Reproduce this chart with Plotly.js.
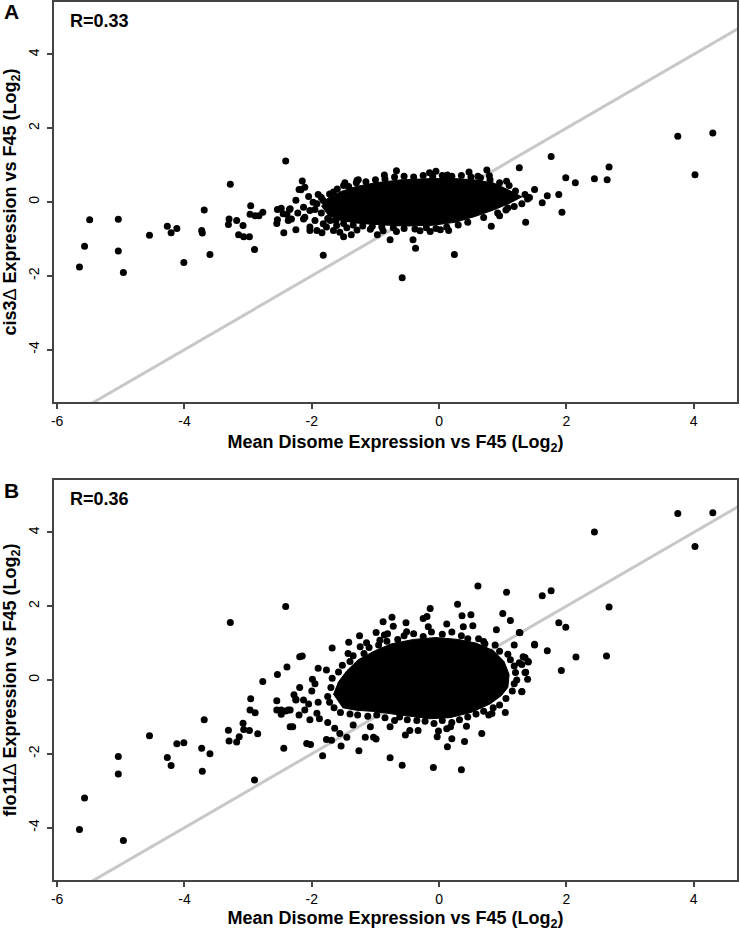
<!DOCTYPE html>
<html>
<head>
<meta charset="utf-8">
<script src="https://cdn.plot.ly/plotly-3.0.1.min.js"></script>
<style>html,body{margin:0;padding:0;background:#fff;}#chart{width:740px;height:931px;}</style>
</head>
<body>
<div id="chart"></div>
<script>
// ---------- DATA ----------
const xTickVals = [-6, -4, -2, 0, 2, 4];
const xTickText = ["-6", "-4", "-2", "0", "2", "4"];
const yTickVals = [-4, -2, 0, 2, 4];
const yTickText = ["-4", "-2", "0", "2", "4"];

// identity line (y = x)
const refLineX = [-7, 6];
const refLineY = [-7, 6];

// Panel A: cis3Δ vs mean disome  [x, y]
const panelAPoints = [
[-5.65,-1.76],[-5.57,-1.20],[-5.49,-0.48],[-5.04,-0.47],[-5.04,-1.33],[-4.96,-1.91],
[-4.55,-0.90],[-4.27,-0.66],[-4.21,-0.83],[-4.12,-0.72],[-4.01,-1.64],[-3.73,-0.77],
[-3.72,-0.84],[-3.69,-0.22],[-3.60,-1.42],[-3.28,0.48],[-3.31,-0.61],[-3.30,-0.46],
[-3.18,-0.50],[-3.08,-0.64],[-3.15,-0.89],[-3.07,-0.94],[-2.98,-0.94],[-2.96,-0.10],
[-2.97,-0.33],[-2.89,-0.37],[-2.83,-0.37],[-2.77,-0.28],[-2.90,-1.29],[-2.41,1.11],
[-2.54,-0.20],[-2.48,-0.17],[-2.54,-0.48],[-2.55,-0.58],[-2.44,-0.83],[-2.39,-0.34],
[-2.35,-0.20],[-2.37,-0.50],[-2.32,-0.46],[-2.25,-0.75],[-2.20,0.34],[-2.45,-0.32],
[-2.15,0.57],[-2.11,0.40],[-2.17,0.33],[-2.34,-0.18],[-1.82,-1.44],[-1.90,0.20],
[-1.48,0.52],[-1.27,0.60],[-0.86,0.73],[-0.67,0.85],[-0.15,0.79],[-0.05,0.83],
[0.13,0.73],[0.47,0.81],[0.75,0.87],[0.79,0.71],[0.61,0.70],[1.06,0.56],[1.26,0.93],
[1.76,1.23],[1.50,0.34],[1.39,0.08],[1.70,0.17],[1.62,-0.02],[1.88,0.20],[1.99,0.66],
[2.14,0.52],[1.93,-0.28],[1.36,-0.55],[1.08,-0.16],[0.95,-0.37],[0.82,-0.66],
[0.15,-0.77],[0.24,-1.42],[-0.41,-1.02],[-0.37,-1.25],[-0.58,-2.05],[-0.77,-1.02],
[-0.97,-0.89],[-1.38,-0.89],[-1.50,-0.94],[-1.84,-0.83],[-2.03,-0.77],[-2.13,-0.46],
[3.75,1.78],[4.30,1.87],[4.02,0.74],[2.67,0.95],[2.64,0.60],[2.44,0.63],
[-2.13,-0.14],[-2.11,-0.41],[-2.03,-0.23],[-1.98,-0.01],[-1.82,0.04],[-1.71,-0.50],
[-2.03,-0.68],[-1.92,-0.77],[-1.77,-0.68],[-1.66,-0.77],[-1.56,-0.82],[-1.29,-0.76],
[-1.08,-0.74],[-0.88,-0.78],[-0.67,-0.80],[-0.30,-0.78],[-0.14,-0.80],[0.02,-0.75],
[-1.95,-0.50],[-1.82,-0.59],[-1.61,-0.64],[-1.45,-0.70],[-1.66,0.27],[-1.50,0.45],
[-1.29,0.58],[-2.25,0.05],[-2.05,0.15],[-2.22,-0.30],
[-1.92,-0.05],[-1.85,0.12],[-1.72,0.22],[-1.60,0.35],[-1.42,0.42],[-1.30,0.52],
[-1.15,0.55],[-1.00,0.60],[-0.85,0.62],[-0.70,0.68],[-0.55,0.70],[-0.40,0.68],
[-0.25,0.72],[-0.10,0.70],[0.05,0.72],[0.20,0.70],[0.35,0.72],[0.50,0.68],[0.65,0.66],
[0.80,0.60],[0.95,0.52],[1.10,0.45],[1.20,0.30],[1.35,0.20],[1.42,0.12],
[1.30,-0.05],[1.18,-0.12],[1.05,-0.22],[0.92,-0.30],[0.70,-0.42],[0.45,-0.55],
[0.30,-0.62],[0.12,-0.68],[-0.05,-0.72],[-0.20,-0.70],[-0.38,-0.73],[-0.55,-0.72],
[-0.72,-0.70],[-0.90,-0.68],[-1.05,-0.66],[-1.20,-0.65],[-1.35,-0.62],[-1.50,-0.58],
[-1.62,-0.50],[-1.75,-0.45],[-1.85,-0.30],[-1.95,-0.20]
];
// Panel A: saturated (fully overlapping) core of the point cloud, outline
const panelACoreX = [-1.85,-1.75,-1.55,-1.30,-1.00,-0.60,-0.20,0.20,0.55,0.85,1.05,1.30,1.10,0.85,0.55,0.25,-0.10,-0.50,-0.90,-1.25,-1.55,-1.75];
const panelACoreY = [-0.12,0.10,0.28,0.42,0.52,0.60,0.63,0.64,0.60,0.52,0.36,0.14,-0.04,-0.22,-0.40,-0.55,-0.63,-0.65,-0.62,-0.58,-0.50,-0.35];

// Panel B: flo11Δ vs mean disome  [x, y]
const panelBPoints = [
[-5.65,-4.05],[-5.57,-3.20],[-5.04,-2.07],[-5.04,-2.55],[-4.96,-4.35],[-4.55,-1.51],
[-4.27,-2.10],[-4.21,-2.32],[-4.12,-1.73],[-4.01,-1.70],[-3.73,-1.85],[-3.72,-2.47],
[-3.69,-1.08],[-3.60,-2.00],[-3.28,1.56],[-3.31,-1.36],[-3.30,-1.65],[-3.18,-1.68],
[-3.14,-1.54],[-3.08,-1.17],[-3.07,-1.34],[-2.98,-1.37],[-2.96,-0.51],[-2.97,-0.81],
[-2.89,-0.89],[-2.85,-1.46],[-2.77,-0.04],[-2.90,-2.71],[-2.41,1.99],[-2.54,0.15],
[-2.39,0.35],[-2.55,-0.56],[-2.55,-0.81],[-2.48,-0.81],[-2.48,-0.93],[-2.37,-0.81],
[-2.41,-0.84],[-2.34,-1.27],[-2.44,-1.85],[-2.25,-0.52],[-2.19,-0.20],[-2.19,0.63],
[0.61,2.55],[1.06,2.38],[0.29,2.05],[-0.14,1.94],[-0.19,1.72],[-0.25,1.67],[-0.74,1.70],
[-0.88,1.58],[-0.72,1.46],[-0.52,1.55],[0.36,1.74],[0.50,1.77],[0.12,1.52],[0.53,1.47],
[1.00,1.80],[1.12,1.61],[0.90,1.36],[1.26,1.29],[1.18,0.95],[1.50,0.95],[-1.68,0.87],
[-2.15,0.65],[-1.42,1.02],[-1.25,1.20],[-1.14,1.01],[-0.99,1.29],[-0.81,1.25],[-1.99,0.02],
[-2.25,-0.54],[-2.34,-0.81],[-2.30,-1.27],[-2.08,-1.72],[-2.02,-1.75],[-1.83,-2.05],
[-1.54,-1.79],[-1.26,-1.92],[-1.77,-1.61],[-1.69,-1.63],[-0.77,-2.11],[-0.58,-2.31],
[-0.09,-2.37],[0.35,-2.43],[0.13,-1.81],[0.40,-1.67],[0.20,-1.59],[0.67,-1.45],
[1.04,-0.88],[0.78,-0.95],[0.83,-0.91],[1.30,-0.32],[1.39,0.02],[1.35,0.20],[1.40,0.50],
[1.32,0.63],[1.26,0.47],[-0.99,-1.60],[-1.16,-1.55],[-0.53,-1.49],[-0.33,-1.37],
[-0.03,-1.54],[-0.01,-1.38],[0.18,-1.27],
[3.75,4.51],[4.30,4.53],[4.02,3.62],[2.44,4.01],[2.67,1.98],[2.63,0.65],[2.15,0.62],
[1.92,0.26],[1.99,1.43],[1.88,1.55],[1.76,2.42],[1.62,2.28],[1.70,0.79],[1.50,0.97],
[1.35,0.61],[1.40,0.49],[1.30,0.42],[1.36,0.21],[1.30,-0.31],[1.27,1.28],
[-1.43,0.72],[-1.24,0.90],[-0.93,1.08],[-0.86,1.22],[-0.51,1.31],[-0.17,1.44],[0.38,1.44],
[0.70,1.04],[-0.77,-1.27],[-1.08,-1.27],[-1.35,-1.22],[-1.64,-1.31],[-1.92,-0.90],
[-2.03,-1.08],[-2.11,-0.81],[-2.13,-0.54],[-1.90,0.32],[-1.77,0.27],[-1.56,-1.45],
[-1.45,-1.55],[-1.03,-1.55],[-0.46,-1.37],[0.43,-1.25],[0.12,-1.32],
[-1.90,-0.60],[-2.00,-0.30],[-1.95,-0.10],[-2.05,-0.65],[-1.88,-1.05],[-1.75,-1.15],
[-2.20,-0.95],[-2.28,-0.40],
[-1.75,-0.45],[-1.70,-0.20],[-1.68,0.05],[-1.58,0.22],[-1.52,0.40],[-1.40,0.50],
[-1.35,0.66],[-1.18,0.72],[-1.10,0.88],[-0.95,0.95],[-0.82,1.05],[-0.65,1.10],
[-0.55,1.20],[-0.40,1.25],[-0.25,1.18],[-0.12,1.30],[0.05,1.24],[0.20,1.30],[0.35,1.20],
[0.45,1.12],[0.62,1.12],[0.72,0.98],[0.88,0.95],[0.95,0.78],[1.08,0.70],[1.12,0.55],
[1.18,0.38],[1.20,0.20],[1.22,0.00],[1.18,-0.10],[1.15,-0.30],[1.05,-0.50],[0.95,-0.68],
[0.85,-0.75],[0.70,-0.85],[0.58,-0.92],[0.45,-1.00],[0.32,-1.08],[0.20,-1.15],
[0.05,-1.10],[-0.08,-1.18],[-0.22,-1.12],[-0.35,-1.10],[-0.50,-1.08],[-0.62,-1.00],
[-0.70,-1.10],[-0.85,-1.02],[-0.98,-0.95],[-1.12,-0.98],[-1.28,-0.95],[-1.40,-0.92],
[-1.55,-0.88],[-1.65,-0.75],[-1.72,-0.60]
];
// Panel B: saturated core outline
const panelBCoreX = [-1.66,-1.58,-1.45,-1.27,-1.00,-0.75,-0.40,-0.05,0.30,0.58,0.85,1.02,1.10,1.08,0.98,0.80,0.50,0.17,-0.15,-0.46,-0.77,-1.05,-1.30,-1.52];
const panelBCoreY = [-0.40,-0.05,0.25,0.55,0.80,0.98,1.10,1.15,1.10,1.00,0.80,0.50,0.15,-0.20,-0.42,-0.65,-0.88,-1.02,-1.05,-0.98,-0.92,-0.85,-0.82,-0.75];

const rTextA = "R=0.33";
const rTextB = "R=0.36";
const xTitleText = 'Mean Disome Expression vs F45 (Log<sub>2</sub>)';
const yTitleA = 'cis3<span style="font-weight:normal">Δ</span> Expression vs F45 (Log<sub>2</sub>)';
const yTitleB = 'flo11<span style="font-weight:normal">Δ</span> Expression vs F45 (Log<sub>2</sub>)';

// ---------- CHART ----------
const W = 740, H = 931;
const FONT = "Liberation Sans, Arial, Helvetica, sans-serif";
const px = v => v / W;
const py = v => 1 - v / H;

function panel(points, coreX, coreY, xa, ya) {
  return [
    {type:'scatter', mode:'lines', x:refLineX, y:refLineY, xaxis:xa, yaxis:ya,
     line:{color:'#c8c8c8', width:3}, hoverinfo:'skip'},
    {type:'scatter', mode:'lines', x:coreX, y:coreY, xaxis:xa, yaxis:ya,
     fill:'toself', fillcolor:'#000', line:{color:'#000', width:1}, hoverinfo:'skip'},
    {type:'scatter', mode:'markers', x:points.map(p=>p[0]), y:points.map(p=>p[1]),
     xaxis:xa, yaxis:ya, marker:{color:'#000', size:7, line:{width:0}}}
  ];
}

const data = [].concat(
  panel(panelAPoints, panelACoreX, panelACoreY, 'x', 'y'),
  panel(panelBPoints, panelBCoreX, panelBCoreY, 'x2', 'y2')
);

const titleFont = {family:FONT, size:18, color:'#000', weight:'bold'};
const xDom = [px(54), px(737)];
const axisCommon = {
  showline:true, linecolor:'#444', linewidth:1.5, mirror:true,
  ticks:'outside', ticklen:5, tickwidth:1.5, tickcolor:'#444',
  showgrid:false, zeroline:false, tickmode:'array', automargin:false,
  tickfont:{family:FONT, size:14, color:'#000'}
};
function xAxis(anchor) {
  return Object.assign({}, axisCommon, {domain:xDom, range:[-6.05, 4.68], anchor:anchor,
    tickvals:xTickVals, ticktext:xTickText,
    title:{text:xTitleText, font:titleFont, standoff:8}});
}
function yAxis(dom, anchor, title) {
  return Object.assign({}, axisCommon, {domain:dom, range:[-5.42, 5.42], anchor:anchor,
    tickvals:yTickVals, ticktext:yTickText, tickangle:-90, ticklabelstandoff:3,
    title:{text:title, font:titleFont, standoff:6}});
}

const ann = (text, x, y, opts) => Object.assign({text:text, xref:'paper', yref:'paper',
  x:x, y:y, showarrow:false, font:titleFont, xanchor:'left', yanchor:'middle'}, opts||{});

const labelFont = {family:FONT, size:21, color:'#000', weight:'bold'};
const layout = {
  width:W, height:H, margin:{l:0, r:0, t:0, b:0},
  paper_bgcolor:'#fff', plot_bgcolor:'#fff', showlegend:false,
  font:{family:FONT, color:'#000'},
  xaxis: xAxis('y'),
  yaxis: yAxis([py(402), py(2)], 'x', yTitleA),
  xaxis2: xAxis('y2'),
  yaxis2: yAxis([py(880), py(480)], 'x2', yTitleB),
  annotations: [
    ann('A', px(2), py(12), {font:labelFont}),
    ann('B', px(2), py(490), {font:labelFont}),
    ann(rTextA, px(68), py(21)),
    ann(rTextB, px(68), py(499))
  ]
};

Plotly.newPlot('chart', data, layout, {displayModeBar:false});
</script>
</body>
</html>
